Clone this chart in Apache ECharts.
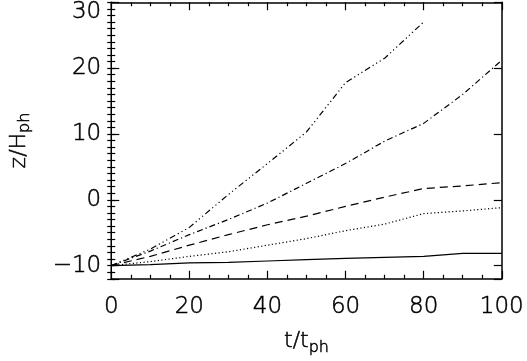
<!DOCTYPE html>
<html>
<head>
<meta charset="utf-8">
<script src="https://cdn.jsdelivr.net/npm/echarts@6/dist/echarts.min.js"></script>
<style>
html,body{margin:0;padding:0;background:#fff;}
#chart{width:527px;height:361px;}
</style>
</head>
<body>
<div id="chart"></div>
<script>
// time values (t / t_ph)
var tA = [0, 10, 20, 30, 40, 50, 60, 70, 80];
var seriesA = [-10, -7.5, -4.2, 0.8, 5.5, 10.3, 17.8, 21.5, 27];
var tFull = [0, 10, 20, 30, 40, 50, 60, 70, 80, 90, 100];
var seriesB = [-10, -7.8, -5.3, -3.0, -0.5, 2.5, 5.5, 8.9, 11.6, 16.0, 21.2];
var seriesC = [-10, -8.6, -6.9, -5.3, -3.8, -2.5, -1.0, 0.4, 1.7, 2.1, 2.6];
var seriesD = [-10, -9.4, -8.6, -7.9, -6.9, -5.9, -4.7, -3.7, -2.1, -1.7, -1.2];
var seriesE = [-10, -9.85, -9.6, -9.5, -9.3, -9.1, -8.9, -8.75, -8.6, -8.15, -8.15];
var yTickLabels = [-10, 0, 10, 20, 30];

function pairs(xs, ys) { return xs.map(function (x, i) { return [x, ys[i]]; }); }

var FONT = 'DejaVu Sans';
var FW = 300;
var FS = 23;
var ink = '#000';
var TB = { textBorderColor: '#000', textBorderWidth: 0.5 };

function txt(o) { return Object.assign({}, TB, o); }

function mkX(pos, showLabels) {
  return {
    type: 'value', position: pos, min: 0, max: 100, interval: 20,
    axisLine: { show: true, onZero: false, lineStyle: { color: ink, width: 1.5 } },
    axisTick: { show: true, inside: true, length: 8, lineStyle: { color: ink, width: 1.2 } },
    minorTick: { show: true, splitNumber: 4, length: 4, lineStyle: { color: ink, width: 1.2 } },
    splitLine: { show: false },
    axisLabel: txt({ show: showLabels, fontFamily: FONT, fontWeight: FW, fontSize: FS, color: ink, margin: 17 }),
    name: showLabels ? '{a|t/t}{s|ph}' : '',
    nameLocation: 'middle', nameGap: 49,
    nameTextStyle: {
      fontFamily: FONT, color: ink,
      rich: {
        a: txt({ fontFamily: FONT, fontWeight: FW, fontSize: 22, color: ink }),
        s: txt({ fontFamily: FONT, fontWeight: FW, fontSize: 16, color: ink, padding: [12, 0, 0, 0] })
      }
    }
  };
}
// major ticks + labels (nice ticks at multiples of 10)
function mkYMajor(pos, showLabels) {
  return {
    type: 'value', position: pos, min: -12, max: 30, splitNumber: 4,
    axisLine: { show: true, onZero: false, lineStyle: { color: ink, width: 1.5 } },
    axisTick: { show: true, inside: true, length: 8, lineStyle: { color: ink, width: 1.2 } },
    minorTick: { show: false },
    splitLine: { show: false },
    axisLabel: txt({
      show: showLabels, fontFamily: FONT, fontWeight: FW, fontSize: FS, color: ink, margin: 10,
      showMinLabel: true, showMaxLabel: true,
      formatter: function (v) {
        if (yTickLabels.indexOf(v) < 0) return '';
        if (v === 30) return '{top|30}';
        return (v < 0 ? '\u2212' + Math.abs(v) : String(v));
      },
      rich: { top: txt({ fontFamily: FONT, fontWeight: FW, fontSize: FS, color: ink, padding: [19, 0, 0, 0] }) }
    }),
    name: showLabels ? '{a|z/H}{s|ph}' : '',
    nameLocation: 'middle', nameGap: 78, nameRotate: 90,
    nameTextStyle: {
      fontFamily: FONT, color: ink,
      rich: {
        a: txt({ fontFamily: FONT, fontWeight: FW, fontSize: 22, color: ink }),
        s: txt({ fontFamily: FONT, fontWeight: FW, fontSize: 16, color: ink, padding: [12, 0, 0, 0] })
      }
    }
  };
}
// minor ticks every unit (min -12 is a multiple of 1)
function mkYMinor(pos) {
  return {
    type: 'value', position: pos, min: -12, max: 30, interval: 1,
    axisLine: { show: false },
    axisTick: { show: true, inside: true, length: 4, lineStyle: { color: ink, width: 1.2 } },
    minorTick: { show: false },
    splitLine: { show: false },
    axisLabel: { show: false }
  };
}

function line(data, dash) {
  return {
    type: 'line', data: data, showSymbol: false, symbol: 'none', smooth: false,
    xAxisIndex: 0, yAxisIndex: 0,
    lineStyle: { color: ink, width: 1.2, type: dash },
    animation: false
  };
}

var chart = echarts.init(document.getElementById('chart'), null, { renderer: 'canvas' });
chart.setOption({
  backgroundColor: '#fff',
  animation: false,
  grid: { left: 101.7, right: 21.5, top: 1.5, bottom: 75, containLabel: false },
  xAxis: [mkX('bottom', true), mkX('top', false)],
  yAxis: [mkYMajor('left', true), mkYMinor('left'), mkYMajor('right', false), mkYMinor('right')],
  series: [
    line(pairs(tA, seriesA), [6, 3, 1.2, 3, 1.2, 3, 1.2, 3]),
    line(pairs(tFull, seriesB), [6, 3, 1.2, 3]),
    line(pairs(tFull, seriesC), [8, 5]),
    line(pairs(tFull, seriesD), [1.2, 2.4]),
    line(pairs(tFull, seriesE), 'solid')
  ]
});
</script>
</body>
</html>
